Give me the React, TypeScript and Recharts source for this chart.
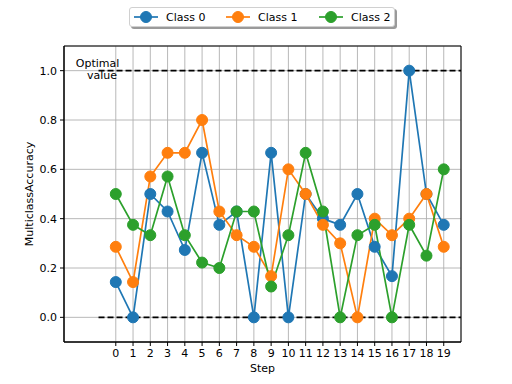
import React from 'react';
import { LineChart, Line, XAxis, YAxis, CartesianGrid, ReferenceLine, ReferenceArea, ReferenceDot } from 'recharts';

const steps = [0, 1, 2, 3, 4, 5, 6, 7, 8, 9, 10, 11, 12, 13, 14, 15, 16, 17, 18, 19];
const class0 = [0.143, 0, 0.5, 0.429, 0.273, 0.667, 0.375, 0.429, 0, 0.667, 0, 0.5, 0.4, 0.375, 0.5, 0.286, 0.167, 1.0, 0.5, 0.375];
const class1 = [0.286, 0.143, 0.571, 0.667, 0.667, 0.8, 0.429, 0.333, 0.286, 0.167, 0.6, 0.5, 0.375, 0.3, 0, 0.4, 0.333, 0.4, 0.5, 0.286];
const class2 = [0.5, 0.375, 0.333, 0.571, 0.333, 0.222, 0.2, 0.429, 0.429, 0.125, 0.333, 0.667, 0.429, 0, 0.333, 0.375, 0, 0.375, 0.25, 0.6];
const yTicks = [0, 0.2, 0.4, 0.6, 0.8, 1.0];
const optimalLevels = [0, 1];

const seriesNames = ['Class 0', 'Class 1', 'Class 2'];
const seriesKeys = ['c0', 'c1', 'c2'];
const colors = ['#1f77b4', '#ff7f0e', '#2ca02c'];

const data = steps.map((s, i) => ({ step: s, c0: class0[i], c1: class1[i], c2: class2[i] }));

const FONT = '"DejaVu Sans", sans-serif';

const OptimalLabel = (props: any) => {
  const { cx, cy } = props;
  return (
    <g fontFamily={FONT} fontSize={11} fill="#000">
      <text x={cx - 1} y={cy - 4} textAnchor="middle">Optimal</text>
      <text x={cx + 3.5} y={cy + 8} textAnchor="middle">value</text>
    </g>
  );
};

const YLabel = (props: any) => {
  const vb = props.viewBox || { x: 0, y: 46, width: 64, height: 296 };
  const x = vb.x + 29;
  const y = vb.y + vb.height / 2;
  return (
    <text x={x} y={y} transform={`rotate(-90, ${x}, ${y})`} textAnchor="middle" dominantBaseline="central"
      fontFamily={FONT} fontSize={11} fill="#000">
      MulticlassAccuracy
    </text>
  );
};

const LegendBox = () => (
  <div style={{
    position: 'absolute', left: 129, top: 7, width: 266, height: 20, boxSizing: 'border-box',
    border: '1px solid #d0d0d0', borderRadius: 3, background: '#fff',
    boxShadow: '2px 2px 0 #9a9a9a', fontFamily: FONT, fontSize: 11,
  }}>
    {seriesNames.map((name, i) => (
      <div key={name} style={{ position: 'absolute', left: [4, 96, 189][i], top: 0, height: 18, display: 'flex', alignItems: 'center' }}>
        <svg width={24} height={14} style={{ display: 'block' }}>
          <line x1={0} y1={7} x2={24} y2={7} stroke={colors[i]} strokeWidth={1.7} />
          <circle cx={12} cy={7} r={5.5} fill={colors[i]} stroke={colors[i]} />
        </svg>
        <span style={{ marginLeft: 8, color: '#000' }}>{name}</span>
      </div>
    ))}
  </div>
);

export default function App() {
  return (
    <div style={{ position: 'absolute', left: 0, top: 0, width: 512, height: 384, background: '#fff' }}>
      <LineChart width={512} height={384} data={data} margin={{ top: 46, right: 51, bottom: 0, left: 0 }}>
        <CartesianGrid stroke="#b0b0b0" strokeWidth={0.9} />
        <XAxis dataKey="step" type="number" domain={[-3, 20]} ticks={steps} interval={0} height={42}
          tickSize={4} tickMargin={3} stroke="#000" tick={{ fill: '#000', fontSize: 11, fontFamily: FONT }}
          label={{ value: 'Step', position: 'insideBottom', offset: 12, fill: '#000', fontSize: 11, fontFamily: FONT }} />
        <YAxis type="number" domain={[-0.1, 1.1]} ticks={yTicks} width={64} tickSize={4} tickMargin={3}
          stroke="#000" tick={{ fill: '#000', fontSize: 11, fontFamily: FONT }}
          tickFormatter={(v: number) => v.toFixed(1)} label={<YLabel />} />
        {optimalLevels.map((lv) => (
          <ReferenceLine key={lv} segment={[{ x: -1, y: lv }, { x: 20, y: lv }]} stroke="#000"
            strokeWidth={1.7} strokeDasharray="6 3" />
        ))}
        <ReferenceDot x={-1} y={1} r={0} shape={(p: any) => <OptimalLabel {...p} />} />
        {seriesKeys.map((k, i) => (
          <Line key={k} dataKey={k} name={seriesNames[i]} type="linear" stroke={colors[i]} strokeWidth={1.7}
            dot={{ r: 5.5, fill: colors[i], stroke: colors[i], strokeWidth: 1 }} activeDot={false}
            isAnimationActive={false} />
        ))}
        <ReferenceArea x1={-3} x2={20} y1={-0.1} y2={1.1} fill="none" stroke="#000" strokeWidth={1} fillOpacity={0} />
      </LineChart>
      <LegendBox />
    </div>
  );
}
